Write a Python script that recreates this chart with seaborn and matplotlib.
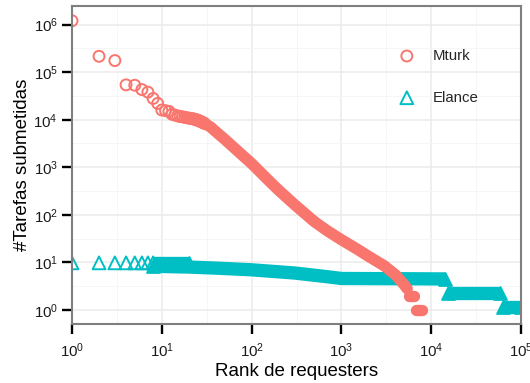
import numpy as np
import pandas as pd
import matplotlib
matplotlib.use("Agg")
import matplotlib.pyplot as plt
from matplotlib.ticker import FixedLocator, NullFormatter, LogFormatterSciNotation
import seaborn as sns

# ---------------- data ----------------
series_names = ["Mturk", "Elance"]
colors = {"Mturk": "#F8766D", "Elance": "#00BFC4"}

# Mturk: individually visible points (rank, tasks)
mturk_rank = list(range(1, 31))
mturk_tasks = [1.2e6, 2.15e5, 1.75e5, 5.4e4, 5.3e4, 4.3e4, 3.8e4, 2.8e4, 2.2e4, 1.6e4,
               1.55e4, 1.5e4, 1.3e4, 1.25e4, 1.2e4, 1.17e4, 1.15e4, 1.12e4, 1.1e4, 1.08e4,
               1.06e4, 1.05e4, 1.03e4, 1.01e4, 9.8e3, 9.5e3, 9.2e3, 8.9e3, 8.6e3, 8.3e3]
# Mturk: dense tail (thousands of overlapping points)
mturk_tail_rank = [20, 30, 35, 40, 50, 70, 100, 150, 200, 300, 500, 700, 1000,
                   1500, 2000, 3000, 4000, 5000, 5400]
mturk_tail_tasks = [1.08e4, 8.3e3, 7.0e3, 5.6e3, 3.9e3, 2.2e3, 1.2e3, 560, 330, 165,
                    72, 46, 30, 19, 13.5, 8.5, 5.5, 3.4, 2.8]
mturk_two_rank = [5600, 6500]
mturk_two_tasks = [2, 2]
mturk_one_rank = [6700, 7800]
mturk_one_tasks = [1, 1]

# Elance: individually visible points
elance_rank = [1, 2, 3, 4, 5, 6, 7, 8]
elance_tasks = [9.8, 9.8, 9.8, 9.8, 9.8, 9.8, 9.8, 9.8]
# Elance: dense runs
elance_top_rank = [8, 20]
elance_top_tasks = [9.8, 9.8]
elance_main_rank = [8, 20, 40, 100, 300, 700, 1000, 14400]
elance_main_tasks = [8.3, 8.0, 7.6, 7.0, 6.0, 5.0, 4.6, 4.5]
elance_b_rank = [15500, 58000]
elance_b_tasks = [2.25, 2.25]
elance_c_rank = [63000, 100000]
elance_c_tasks = [1.13, 1.13]

x_ticks = [1, 10, 100, 1000, 10000, 100000]
y_ticks = [1, 10, 100, 1000, 10000, 100000, 1000000]

# ---------------- styling ----------------
sns.set_theme(style="white")
plt.rcParams["font.family"] = ["Liberation Sans", "DejaVu Sans"]
plt.rcParams["mathtext.fontset"] = "custom"
plt.rcParams["mathtext.rm"] = "Liberation Sans"
plt.rcParams["mathtext.it"] = "Liberation Sans:italic"
plt.rcParams["mathtext.bf"] = "Liberation Sans:bold"

fig = plt.figure(figsize=(5.30, 3.83), dpi=100)
ax = fig.add_axes([72 / 530, 1 - 324 / 383, 449 / 530, 318 / 383])
ax.set_xscale("log")
ax.set_yscale("log")

circ_lw = 1.4
circ_s = 62
tri_s = 85
mturk_band_lw = 8.2
elance_band_lw = 9.6


def band(xs, ys, color, lw, cap, z):
    sns.lineplot(x=xs, y=ys, ax=ax, color=color, lw=lw, estimator=None, sort=False,
                 solid_capstyle=cap, legend=False, zorder=z)


# Elance first (drawn underneath)
band(elance_top_rank, elance_top_tasks, colors["Elance"], elance_band_lw, "butt", 2)
band(elance_main_rank, elance_main_tasks, colors["Elance"], elance_band_lw, "butt", 2)
band(elance_b_rank, elance_b_tasks, colors["Elance"], elance_band_lw, "butt", 2)
band(elance_c_rank, elance_c_tasks, colors["Elance"], elance_band_lw, "butt", 2)
ends_x = [elance_top_rank[-1], elance_main_rank[0], elance_main_rank[-1],
          elance_b_rank[0], elance_b_rank[-1], elance_c_rank[0], elance_c_rank[-1]]
ends_y = [elance_top_tasks[-1], elance_main_tasks[0], elance_main_tasks[-1],
          elance_b_tasks[0], elance_b_tasks[-1], elance_c_tasks[0], elance_c_tasks[-1]]
sns.scatterplot(x=ends_x, y=ends_y, ax=ax, marker="^", s=tri_s, color=colors["Elance"],
                edgecolor=colors["Elance"], linewidth=circ_lw, legend=False, zorder=2)
sns.scatterplot(x=elance_rank, y=elance_tasks, ax=ax, marker="^", s=tri_s,
                facecolor="none", edgecolor=colors["Elance"], linewidth=circ_lw,
                label="Elance", zorder=3)

# Mturk on top
band(mturk_tail_rank, mturk_tail_tasks, colors["Mturk"], mturk_band_lw, "round", 4)
band(mturk_two_rank, mturk_two_tasks, colors["Mturk"], mturk_band_lw, "round", 4)
band(mturk_one_rank, mturk_one_tasks, colors["Mturk"], mturk_band_lw, "round", 4)
sns.scatterplot(x=mturk_rank, y=mturk_tasks, ax=ax, marker="o", s=circ_s,
                facecolor="none", edgecolor=colors["Mturk"], linewidth=circ_lw,
                label="Mturk", zorder=5)

# axes limits / grid
ax.set_xlim(1, 1e5)
ax.set_ylim(10 ** -0.294, 10 ** 6.39)
ax.xaxis.set_major_locator(FixedLocator(x_ticks))
ax.yaxis.set_major_locator(FixedLocator(y_ticks))
ax.xaxis.set_minor_locator(FixedLocator([10 ** (k + 0.5) for k in range(5)]))
ax.yaxis.set_minor_locator(FixedLocator([10 ** (k + 0.5) for k in range(-1, 7)]))
ax.xaxis.set_major_formatter(LogFormatterSciNotation())
ax.yaxis.set_major_formatter(LogFormatterSciNotation())
ax.xaxis.set_minor_formatter(NullFormatter())
ax.yaxis.set_minor_formatter(NullFormatter())
ax.grid(True, which="major", color="#EBEBEB", lw=1.1, zorder=0)
ax.grid(True, which="minor", color="#F5F5F5", lw=0.6, zorder=0)
ax.set_axisbelow(True)

ax.tick_params(axis="both", which="major", direction="out", length=7.2, width=1.7,
               color="black", labelsize=10.8, labelcolor="#1a1a1a", pad=3,
               bottom=True, left=True, top=False, right=False)
ax.tick_params(axis="x", which="major", pad=5.5)
ax.tick_params(axis="both", which="minor", length=0, bottom=False, left=False)
for sp in ax.spines.values():
    sp.set_color("#7F7F7F")
    sp.set_linewidth(1.5)
    sp.set_zorder(6)

ax.set_xlabel("Rank de requesters", fontsize=13.5, color="black", labelpad=2)
ax.set_ylabel("#Tarefas submetidas", fontsize=13.5, color="black", labelpad=2)

handles, labels = ax.get_legend_handles_labels()
order = [labels.index("Mturk"), labels.index("Elance")]
ax.legend([handles[i] for i in order], [labels[i] for i in order],
          loc="upper left", bbox_to_anchor=(0.729, 0.865), frameon=False,
          fontsize=10.8, handlelength=1.0, handletextpad=1.2, labelspacing=1.85,
          borderpad=0, borderaxespad=0)

fig.savefig("out.png", dpi=100)
